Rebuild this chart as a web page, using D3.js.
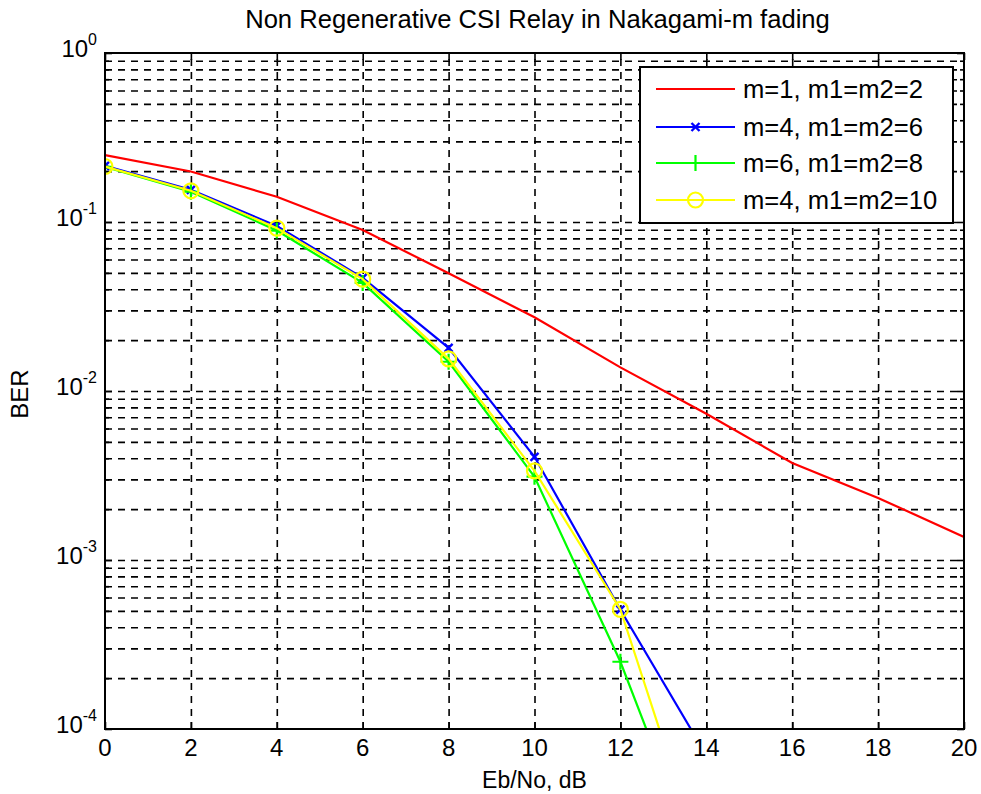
<!DOCTYPE html>
<html>
<head>
<meta charset="utf-8">
<script src="https://cdn.jsdelivr.net/npm/d3@7/dist/d3.min.js"></script>
<style>
  html, body { margin: 0; padding: 0; background: #ffffff; }
  svg { display: block; font-family: "Liberation Sans", Arial, Helvetica, sans-serif; }
</style>
</head>
<body>
<svg id="chart" width="981" height="794"></svg>
<script>
// Eb/No sample points (dB)
const ebno = [0, 2, 4, 6, 8, 10, 12, 14, 16, 18, 20];

// Bit error rate for each fading configuration
const berM1 = [0.249, 0.199, 0.141, 0.0898, 0.0497, 0.0273, 0.0138, 0.00733, 0.00375, 0.00233, 0.00137];
const berM4a = [0.215, 0.155, 0.0948, 0.0467, 0.0180, 0.00408, 0.000508, 0.00007];
const berM6 = [0.212, 0.151, 0.089, 0.0436, 0.0149, 0.00311, 0.000250, 0.000012];
const berM4b = [0.213, 0.153, 0.092, 0.0459, 0.0155, 0.00337, 0.000510, 0.000014];

const seriesNames = ["m=1, m1=m2=2", "m=4, m1=m2=6", "m=6, m1=m2=8", "m=4, m1=m2=10"];
const seriesColors = ["#ff0000", "#0000ff", "#00ff00", "#ffff00"];
const seriesMarkers = ["none", "x", "plus", "circle"];

const xTickValues = [0, 2, 4, 6, 8, 10, 12, 14, 16, 18, 20];
const yDecades = [1e-4, 1e-3, 1e-2, 1e-1, 1];
const yDecadeExponents = ["-4", "-3", "-2", "-1", "0"];

const titleText = "Non Regenerative CSI Relay in Nakagami-m fading";
const xLabelText = "Eb/No, dB";
const yLabelText = "BER";

const svg = d3.select("#chart");
const boxL = 105, boxR = 964, boxT = 53, boxB = 729;

const x = d3.scaleLinear().domain([0, 20]).range([boxL, boxR]);
const y = d3.scaleLog().domain([1e-4, 1]).range([boxB, boxT]);

// every 1..9 multiple inside each decade
const yGridValues = [];
yDecades.slice(0, -1).forEach(d => {
  for (let k = 1; k <= 9; k++) yGridValues.push(d * k);
});
yGridValues.push(1);

// dashed grid, built from axes with full-length ticks
const gridStyle = g => {
  g.select(".domain").remove();
  g.selectAll(".tick line")
    .attr("stroke", "#000")
    .attr("stroke-width", 1.6)
    .attr("stroke-dasharray", "7,6");
};

svg.append("g")
  .attr("transform", `translate(${boxL},0)`)
  .call(d3.axisLeft(y).tickValues(yGridValues.filter(v => v > 1e-4 && v < 1))
        .tickSize(-(boxR - boxL)).tickFormat(""))
  .call(gridStyle);

svg.append("g")
  .attr("transform", `translate(0,${boxB})`)
  .call(d3.axisBottom(x).tickValues(xTickValues.filter(v => v > 0 && v < 20))
        .tickSize(-(boxB - boxT)).tickFormat(""))
  .call(gridStyle);

// inward tick marks on all four sides
const tickStyle = g => {
  g.select(".domain").remove();
  g.selectAll(".tick line").attr("stroke", "#000").attr("stroke-width", 1.6);
  g.selectAll(".tick text").remove();
};
const isDecade = v => yDecades.some(d => Math.abs(d - v) / d < 1e-9);
const yMajor = yGridValues.filter(isDecade);
const yMinor = yGridValues.filter(v => !isDecade(v));

svg.append("g").attr("transform", `translate(${boxL},0)`)
  .call(d3.axisRight(y).tickValues(yMajor).tickSize(7)).call(tickStyle);
svg.append("g").attr("transform", `translate(${boxL},0)`)
  .call(d3.axisRight(y).tickValues(yMinor).tickSize(4)).call(tickStyle);
svg.append("g").attr("transform", `translate(${boxR},0)`)
  .call(d3.axisLeft(y).tickValues(yMajor).tickSize(7)).call(tickStyle);
svg.append("g").attr("transform", `translate(${boxR},0)`)
  .call(d3.axisLeft(y).tickValues(yMinor).tickSize(4)).call(tickStyle);
svg.append("g").attr("transform", `translate(0,${boxB})`)
  .call(d3.axisTop(x).tickValues(xTickValues).tickSize(7)).call(tickStyle);
svg.append("g").attr("transform", `translate(0,${boxT})`)
  .call(d3.axisBottom(x).tickValues(xTickValues).tickSize(7)).call(tickStyle);

// data curves, clipped to the axes box
svg.append("clipPath").attr("id", "plotClip")
  .append("rect").attr("x", boxL).attr("y", boxT)
  .attr("width", boxR - boxL).attr("height", boxB - boxT);

const plot = svg.append("g").attr("clip-path", "url(#plotClip)");
const line = d3.line().x(d => x(d[0])).y(d => y(d[1]));

function drawMarker(g, type, cx, cy, color) {
  if (type === "x") {
    const s = 4;
    g.append("path")
      .attr("d", `M${cx - s},${cy - s}L${cx + s},${cy + s}M${cx - s},${cy + s}L${cx + s},${cy - s}`)
      .attr("stroke", color).attr("stroke-width", 2.4).attr("fill", "none");
  } else if (type === "plus") {
    const s = 8;
    g.append("path")
      .attr("d", `M${cx - s},${cy}L${cx + s},${cy}M${cx},${cy - s}L${cx},${cy + s}`)
      .attr("stroke", color).attr("stroke-width", 2.2).attr("fill", "none");
  } else if (type === "circle") {
    g.append("circle").attr("cx", cx).attr("cy", cy).attr("r", 7.5)
      .attr("stroke", color).attr("stroke-width", 2.2).attr("fill", "none");
  }
}

const allSeries = [berM1, berM4a, berM6, berM4b];
allSeries.forEach((vals, i) => {
  const pts = vals.map((v, j) => [ebno[j], v]);
  plot.append("path").datum(pts)
    .attr("d", line)
    .attr("fill", "none")
    .attr("stroke", seriesColors[i])
    .attr("stroke-width", 2.2);
  if (seriesMarkers[i] !== "none") {
    pts.forEach(p => drawMarker(plot, seriesMarkers[i], x(p[0]), y(p[1]), seriesColors[i]));
  }
});

// axes frame
svg.append("rect")
  .attr("x", boxL).attr("y", boxT)
  .attr("width", boxR - boxL).attr("height", boxB - boxT)
  .attr("fill", "none").attr("stroke", "#000").attr("stroke-width", 2);

// x tick labels
svg.append("g").selectAll("text")
  .data(xTickValues).join("text")
  .attr("x", d => x(d)).attr("y", 756)
  .attr("text-anchor", "middle")
  .attr("font-size", 24)
  .attr("fill", "#000")
  .text(d => d);

// y tick labels as powers of ten
const yLab = svg.append("g").selectAll("text")
  .data(yDecades).join("text")
  .attr("x", 97).attr("y", d => y(d) + 4)
  .attr("text-anchor", "end")
  .attr("font-size", 24)
  .attr("fill", "#000");
yLab.append("tspan").text("10");
yLab.append("tspan")
  .attr("font-size", 16)
  .attr("dy", -12)
  .text((d, i) => yDecadeExponents[i]);

// title and axis labels
svg.append("text")
  .attr("x", (boxL + boxR) / 2 + 3).attr("y", 28)
  .attr("text-anchor", "middle").attr("font-size", 25.6).attr("fill", "#000")
  .text(titleText);

svg.append("text")
  .attr("x", (boxL + boxR) / 2).attr("y", 788)
  .attr("text-anchor", "middle").attr("font-size", 23).attr("fill", "#000")
  .text(xLabelText);

svg.append("text")
  .attr("transform", "translate(28,394) rotate(-90)")
  .attr("text-anchor", "middle").attr("font-size", 24).attr("fill", "#000")
  .text(yLabelText);

// legend
const lg = svg.append("g");
lg.append("rect")
  .attr("x", 640).attr("y", 67).attr("width", 313).attr("height", 156)
  .attr("fill", "#fff").attr("stroke", "#000").attr("stroke-width", 2);
const rowY = [89, 127, 163, 200];
seriesNames.forEach((name, i) => {
  lg.append("line")
    .attr("x1", 656).attr("x2", 735)
    .attr("y1", rowY[i]).attr("y2", rowY[i])
    .attr("stroke", seriesColors[i]).attr("stroke-width", 2.2);
  drawMarker(lg, seriesMarkers[i], 695.5, rowY[i], seriesColors[i]);
  lg.append("text")
    .attr("x", 743).attr("y", rowY[i] + 9)
    .attr("font-size", 25.6).attr("fill", "#000")
    .text(name);
});
</script>
</body>
</html>
